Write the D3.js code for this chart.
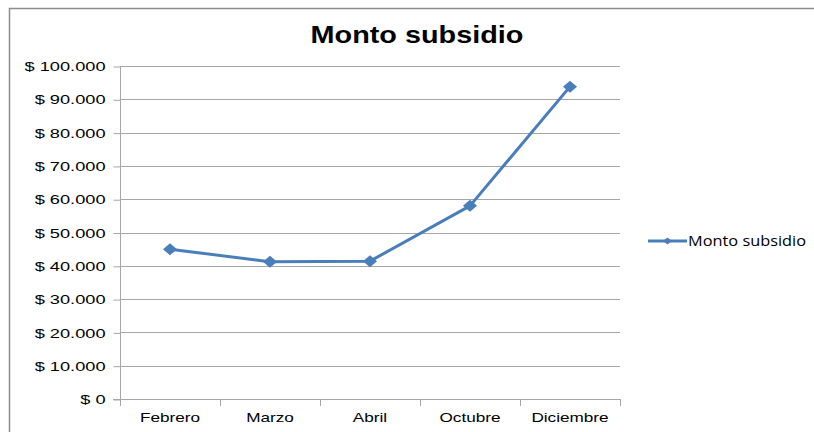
<!DOCTYPE html>
<html>
<head>
<meta charset="utf-8">
<script src="https://cdn.jsdelivr.net/npm/d3@7"></script>
<style>
	body { margin: 0; background: #fff; }
	svg { display: block; }
</style>
</head>
<body>
<div id="chart"></div>
<script>
var meses = ["Febrero", "Marzo", "Abril", "Octubre", "Diciembre"];
var montos = [45000, 41200, 41400, 58000, 93800];
var yTicks = [0, 10000, 20000, 30000, 40000, 50000, 60000, 70000, 80000, 90000, 100000];
var serieNombre = "Monto subsidio";

var width = 814, height = 432;
var plot = {left: 120, right: 620, top: 66, bottom: 399};
var azul = "#4a7ebb";
var fuente = "'Liberation Sans', Arial, sans-serif";

var svg = d3.select("#chart").append("svg")
	.attr("width", width)
	.attr("height", height);

// el original esta estirado en horizontal
var estirar = function(sel, factor){
	sel.each(function(){
		var w = this.getComputedTextLength();
		d3.select(this)
			.attr("textLength", w * factor)
			.attr("lengthAdjust", "spacingAndGlyphs");
	});
};

// marco del grafico
svg.append("path")
	.attr("d", "M9.5," + height + "V8.5H" + width)
	.attr("fill", "none")
	.attr("stroke", "#8c8c8c")
	.attr("stroke-width", 1.5);

var x = d3.scaleBand().domain(meses).range([plot.left, plot.right]);
var y = d3.scaleLinear().domain([0, 100000]).range([plot.bottom, plot.top]);

var fmt = function(d){
	return "$ " + d3.format(",")(d).replace(/,/g, ".");
};

// lineas de grilla
svg.append("g")
	.selectAll("line")
	.data(yTicks.filter(function(d){ return d > 0; }))
	.enter().append("line")
	.attr("x1", plot.left).attr("x2", plot.right)
	.attr("y1", function(d){ return Math.round(y(d)) + 0.5; })
	.attr("y2", function(d){ return Math.round(y(d)) + 0.5; })
	.attr("stroke", "#a6a6a6");

// eje y
var yAxis = svg.append("g")
	.attr("transform", "translate(" + (plot.left + 0.5) + ",0.5)")
	.call(d3.axisLeft(y).tickValues(yTicks).tickFormat(fmt).tickSize(7).tickPadding(8));
yAxis.select(".domain").attr("stroke", "#a6a6a6").attr("d", "M0," + plot.top + "V" + plot.bottom);
yAxis.selectAll(".tick line").attr("stroke", "#a6a6a6");
yAxis.selectAll("text")
	.attr("fill", "#000")
	.style("font-family", fuente)
	.style("font-size", "13px")
	.call(estirar, 1.4);

// eje x
var xAxis = svg.append("g")
	.attr("transform", "translate(0," + (Math.round(plot.bottom) + 0.5) + ")")
	.call(d3.axisBottom(x).tickSize(0).tickPadding(13));
xAxis.select(".domain").attr("stroke", "#a6a6a6").attr("d", "M" + (plot.left - 7) + ",0H" + plot.right);
xAxis.selectAll("text")
	.attr("fill", "#000")
	.style("font-family", fuente)
	.style("font-size", "13px")
	.call(estirar, 1.32);

// separadores de categorias
svg.append("g")
	.selectAll("line")
	.data(meses.concat(["fin"]))
	.enter().append("line")
	.attr("x1", function(d, i){ return plot.left + i * x.bandwidth() + 0.5; })
	.attr("x2", function(d, i){ return plot.left + i * x.bandwidth() + 0.5; })
	.attr("y1", plot.bottom)
	.attr("y2", plot.bottom + 7)
	.attr("stroke", "#a6a6a6");

// serie
var line = d3.line()
	.x(function(d, i){ return x(meses[i]) + x.bandwidth() / 2; })
	.y(function(d){ return y(d); });

svg.append("path")
	.datum(montos)
	.attr("d", line)
	.attr("fill", "none")
	.attr("stroke", azul)
	.attr("stroke-width", 3)
	.attr("stroke-linejoin", "round");

var rombo = d3.symbol().type(d3.symbolSquare).size(72);

svg.append("g")
	.selectAll("path")
	.data(montos)
	.enter().append("path")
	.attr("d", rombo)
	.attr("transform", function(d, i){
		return "translate(" + (x(meses[i]) + x.bandwidth() / 2) + "," + y(d) + ") scale(1.17,1) rotate(45)";
	})
	.attr("fill", azul);

// titulo
svg.append("text")
	.attr("x", 417)
	.attr("y", 43)
	.attr("text-anchor", "middle")
	.style("font-family", fuente)
	.style("font-weight", "bold")
	.style("font-size", "24px")
	.text(serieNombre)
	.call(estirar, 1.2);

// leyenda
var leyenda = svg.append("g").attr("transform", "translate(648,241)");
leyenda.append("line")
	.attr("x1", 0).attr("x2", 39)
	.attr("stroke", azul)
	.attr("stroke-width", 3);
leyenda.append("path")
	.attr("d", d3.symbol().type(d3.symbolSquare).size(24))
	.attr("transform", "translate(19.5,0) scale(1.25,1) rotate(45)")
	.attr("fill", azul);
leyenda.append("text")
	.attr("x", 40)
	.attr("y", 5)
	.attr("textLength", 118)
	.attr("lengthAdjust", "spacingAndGlyphs")
	.style("font-family", "'Open Sans', 'Noto Sans', sans-serif")
	.style("font-size", "14px")
	.text(serieNombre);
</script>
</body>
</html>
